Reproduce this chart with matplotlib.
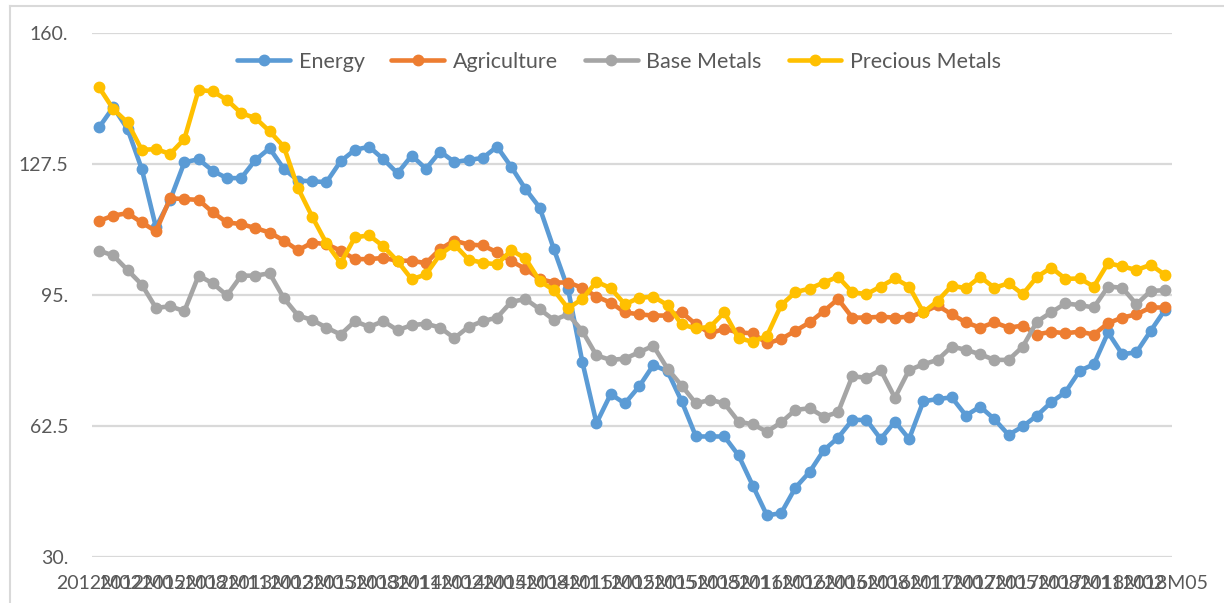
import matplotlib
matplotlib.use("Agg")
import matplotlib.pyplot as plt
from matplotlib.lines import Line2D

# Monthly index values, 2012M02 .. 2018M05
months = [f"{2012 + m // 12}M{m % 12 + 1:02d}" for m in range(1, 77)]

energy = [
    136.6, 141.6, 136.2, 126.3, 111.8, 118.6, 127.9, 128.7, 125.8, 124.0, 124.0, 128.5, 131.4,
    126.3, 123.4, 123.2, 123.0, 128.2, 131.0, 131.8, 128.7, 125.2, 129.6, 126.3, 130.6,
    128.0, 128.5, 129.0, 131.8, 126.8, 121.3, 116.7, 106.4, 96.5, 78.5, 63.2, 70.4, 68.1,
    72.3, 77.6, 76.1, 68.6, 59.9, 59.9, 59.9, 55.2, 47.7, 40.3, 40.9, 47.2, 51.1,
    56.5, 59.6, 64.0, 64.0, 59.3, 63.6, 59.3, 68.6, 69.2, 69.6, 65.1, 67.3, 64.2,
    60.3, 62.4, 65.1, 68.4, 70.9, 76.2, 77.8, 85.7, 80.3, 80.8, 86.1, 91.3,
]
agriculture = [
    113.4, 114.7, 115.3, 113.0, 110.8, 119.0, 118.8, 118.6, 115.5, 113.0, 112.6, 111.6, 110.5,
    108.5, 106.1, 108.0, 107.6, 106.0, 103.9, 103.9, 104.2, 103.5, 103.5, 102.9, 106.4,
    108.5, 107.5, 107.3, 105.6, 103.4, 101.5, 99.0, 98.1, 98.1, 96.8, 94.6, 93.1, 90.7,
    90.2, 89.9, 89.9, 90.7, 87.7, 85.5, 86.6, 85.7, 85.5, 83.0, 84.1, 86.1, 88.2,
    91.0, 94.0, 89.4, 89.4, 89.6, 89.4, 89.6, 90.7, 92.4, 90.2, 88.2, 86.9, 88.2,
    86.9, 87.4, 85.2, 85.9, 85.5, 85.9, 85.2, 88.0, 89.4, 90.2, 91.9, 91.9,
]
base_metals = [
    106.0, 104.8, 101.2, 97.6, 91.8, 92.2, 91.0, 99.8, 97.9, 94.9, 99.8, 99.8, 100.4,
    94.2, 89.9, 88.8, 86.9, 85.2, 88.5, 87.1, 88.5, 86.3, 87.5, 87.9, 86.9,
    84.3, 87.1, 88.5, 89.4, 93.3, 94.0, 91.5, 88.8, 90.2, 86.1, 80.0, 78.9, 79.2,
    80.8, 82.4, 76.7, 72.5, 68.1, 69.0, 68.1, 63.6, 62.9, 61.1, 63.4, 66.5, 66.9,
    64.8, 65.9, 74.8, 74.5, 76.4, 69.5, 76.4, 77.8, 78.9, 82.2, 81.4, 80.3, 78.9,
    78.9, 82.2, 88.4, 90.7, 92.9, 92.5, 91.9, 97.1, 96.8, 92.7, 96.0, 96.2,
]
precious_metals = [
    146.5, 141.1, 137.8, 131.0, 131.2, 130.0, 133.7, 145.9, 145.5, 143.4, 140.1, 138.9, 135.6,
    131.8, 121.5, 114.4, 107.8, 102.9, 109.3, 109.8, 107.1, 103.4, 98.9, 100.1, 105.1,
    107.5, 103.8, 103.0, 102.6, 106.1, 104.1, 98.5, 96.2, 91.7, 94.0, 98.3, 96.7, 92.7,
    94.3, 94.6, 92.5, 87.7, 86.7, 87.1, 90.7, 84.3, 83.4, 84.9, 92.5, 95.7, 96.6,
    98.1, 99.5, 95.7, 95.2, 97.1, 99.1, 97.1, 90.7, 93.5, 97.3, 96.7, 99.5, 96.8,
    97.9, 95.2, 99.5, 101.8, 99.0, 99.1, 97.1, 102.9, 102.1, 101.2, 102.5, 100.0,
]

series = [
    ("Energy", energy, "#5B9BD5"),
    ("Agriculture", agriculture, "#ED7D31"),
    ("Base Metals", base_metals, "#A5A5A5"),
    ("Precious Metals", precious_metals, "#FFC000"),
]

y_ticks = [30, 62.5, 95, 127.5, 160]
y_labels = ["30.", "62.5", "95.", "127.5", "160."]

plt.rcParams["font.family"] = ["Lato", "DejaVu Sans"]
text_color = "#595959"
grid_color = "#D9D9D9"

W, H = 1224, 603
fig = plt.figure(figsize=(W / 100, H / 100), dpi=100)
ax = fig.add_axes([92 / W, (H - 557) / H, 1080 / W, 524 / H])

x = list(range(len(months)))
for name, vals, col in series:
    ax.plot(x, vals, color=col, lw=3.3, marker="o", ms=7.5, label=name,
            solid_capstyle="round", solid_joinstyle="round")

ax.set_xlim(-0.5, len(months) - 0.5)
ax.set_ylim(30, 160)
ax.set_yticks(y_ticks)
ax.set_yticklabels(y_labels)
ax.set_xticks(x[::3])
ax.set_xticklabels(months[::3])
ax.tick_params(axis="both", length=0, labelsize=14, labelcolor=text_color)
ax.tick_params(axis="y", pad=17)
ax.tick_params(axis="x", pad=13)
ax.yaxis.grid(True, color=grid_color, lw=1.6)
ax.set_axisbelow(True)
for s in ax.spines.values():
    s.set_visible(False)

leg = ax.legend(loc="center", bbox_to_anchor=(0.488, 1 - 29 / 524), ncol=4,
                frameon=False, fontsize=15.5, handlelength=2.45,
                handletextpad=0.4, columnspacing=1.25, borderaxespad=0)
for t in leg.get_texts():
    t.set_color(text_color)

# chart area border (left and top edges visible in the crop)
fig.add_artist(Line2D([10 / W, 10 / W], [0, 1 - 6 / H], color=grid_color, lw=1.5))
fig.add_artist(Line2D([10 / W, 1], [1 - 6 / H, 1 - 6 / H], color=grid_color, lw=1.5))

fig.savefig("out.png", dpi=100)
